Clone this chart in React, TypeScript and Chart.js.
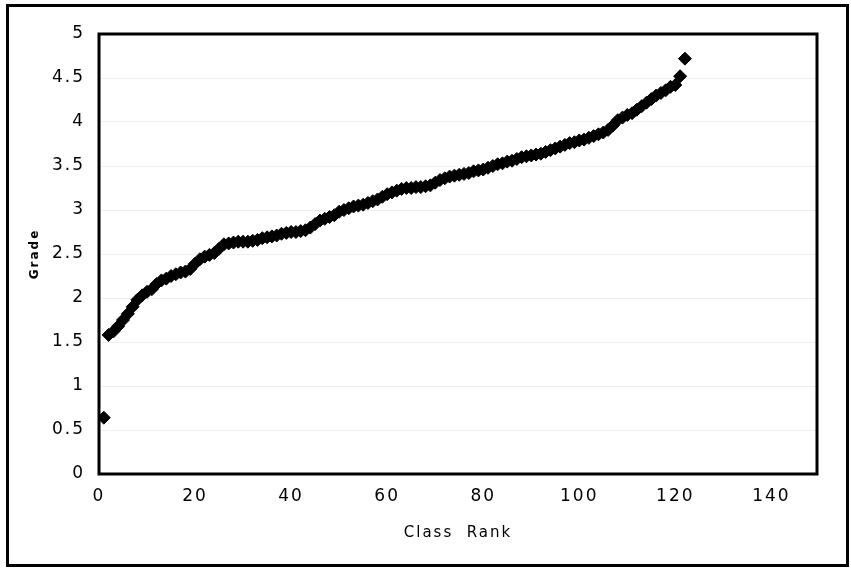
import React, { useEffect, useRef } from "react";
import { Chart, registerables } from "chart.js";

Chart.register(...registerables);

const classRank = [
  1, 2, 3, 4, 5, 6, 7, 8, 9, 10, 11, 12, 13, 14, 15, 16, 17, 18, 19, 20,
  21, 22, 23, 24, 25, 26, 27, 28, 29, 30, 31, 32, 33, 34, 35, 36, 37, 38, 39, 40,
  41, 42, 43, 44, 45, 46, 47, 48, 49, 50, 51, 52, 53, 54, 55, 56, 57, 58, 59, 60,
  61, 62, 63, 64, 65, 66, 67, 68, 69, 70, 71, 72, 73, 74, 75, 76, 77, 78, 79, 80,
  81, 82, 83, 84, 85, 86, 87, 88, 89, 90, 91, 92, 93, 94, 95, 96, 97, 98, 99, 100,
  101, 102, 103, 104, 105, 106, 107, 108, 109, 110, 111, 112, 113, 114, 115, 116, 117, 118, 119, 120,
  121, 122,
];

const grades = [
  0.64, 1.58, 1.62, 1.68, 1.75, 1.82, 1.9, 1.98, 2.03, 2.07,
  2.1, 2.16, 2.2, 2.22, 2.25, 2.27, 2.29, 2.3, 2.33, 2.39,
  2.44, 2.47, 2.49, 2.51, 2.56, 2.61, 2.62, 2.63, 2.64, 2.64,
  2.64, 2.65, 2.66, 2.68, 2.69, 2.7, 2.71, 2.73, 2.74, 2.75,
  2.75, 2.76, 2.77, 2.8, 2.84, 2.88, 2.9, 2.92, 2.94, 2.98,
  3.0, 3.02, 3.04, 3.05, 3.06, 3.08, 3.1, 3.12, 3.15, 3.18,
  3.2, 3.22, 3.24, 3.25, 3.25, 3.26, 3.26, 3.27, 3.28, 3.31,
  3.34, 3.36, 3.38, 3.39, 3.4, 3.41, 3.42, 3.44, 3.45, 3.46,
  3.48, 3.5, 3.52, 3.53, 3.55, 3.56, 3.58, 3.6, 3.61, 3.62,
  3.63, 3.64, 3.66, 3.68, 3.7, 3.72, 3.74, 3.76, 3.77, 3.79,
  3.8, 3.82, 3.84, 3.86, 3.88, 3.91, 3.96, 4.02, 4.05, 4.08,
  4.1, 4.14, 4.18, 4.22, 4.26, 4.3, 4.33, 4.36, 4.4, 4.42,
  4.52, 4.72,
];

const xTickValues = [0, 20, 40, 60, 80, 100, 120, 140];
const yTickValues = [0, 0.5, 1, 1.5, 2, 2.5, 3, 3.5, 4, 4.5, 5];

const FONT = "'DejaVu Sans', sans-serif";

export default function App() {
  const canvasRef = useRef<HTMLCanvasElement>(null);

  useEffect(() => {
    document.body.style.margin = "0";
    const canvas = canvasRef.current;
    if (!canvas) return;

    const setSpacing = (c: any) => {
      c.ctx.letterSpacing = "2px";
    };
    const spacingPlugin = {
      id: "spacing",
      beforeUpdate: setSpacing,
      beforeLayout: setSpacing,
      beforeDraw: setSpacing,
    };
    const framePlugin = {
      id: "frame",
      afterDatasetsDraw(c: any) {
        const { left, top, right, bottom } = c.chartArea;
        const ctx = c.ctx;
        ctx.save();
        ctx.strokeStyle = "#000";
        ctx.lineWidth = 3;
        ctx.strokeRect(left, top, right - left, bottom - top);
        ctx.restore();
      },
    };

    const chart = new Chart(canvas, {
      type: "scatter",
      data: {
        datasets: [
          {
            data: classRank.map((x, i) => ({ x, y: grades[i] })),
            pointStyle: "rectRot",
            pointRadius: 6.5,
            backgroundColor: "#000",
            borderColor: "#000",
            borderWidth: 1,
          },
        ],
      },
      options: {
        animation: false,
        responsive: false,
        events: [],
        layout: { padding: { left: 0, top: 34, right: 34, bottom: 0 } },
        plugins: {
          legend: { display: false },
          tooltip: { enabled: false },
        },
        scales: {
          x: {
            type: "linear",
            min: 0,
            max: 149.5,
            afterBuildTicks: (s: any) => {
              s.ticks = xTickValues.map((v) => ({ value: v }));
            },
            afterFit: (s: any) => {
              s.height = 94;
            },
            grid: { display: false, drawTicks: false },
            border: { display: false },
            ticks: {
              color: "#000",
              font: { family: FONT, size: 17 },
              padding: 12,
              maxRotation: 0,
              autoSkip: false,
              callback: (v: any) => String(v),
            },
            title: {
              display: true,
              text: "Class  Rank",
              color: "#000",
              font: { family: FONT, size: 15 },
              padding: { top: 0, bottom: 26 },
            },
          },
          y: {
            type: "linear",
            min: 0,
            max: 5,
            afterBuildTicks: (s: any) => {
              s.ticks = yTickValues.map((v) => ({ value: v }));
            },
            afterFit: (s: any) => {
              s.width = 99;
            },
            grid: { color: "#efefef", lineWidth: 1, drawTicks: false },
            border: { display: false },
            ticks: {
              color: "#000",
              font: { family: FONT, size: 17 },
              padding: 14,
              autoSkip: false,
              callback: (v: any) => String(v),
            },
            title: {
              display: true,
              text: "Grade",
              color: "#000",
              font: { family: FONT, size: 12, weight: "bold" },
              padding: { top: 28, bottom: 0 },
            },
          },
        },
      },
      plugins: [spacingPlugin, framePlugin],
    } as any);

    return () => chart.destroy();
  }, []);

  return (
    <div style={{ position: "relative", width: 851, height: 568 }}>
      <canvas ref={canvasRef} width={851} height={568} style={{ display: "block" }} />
      <div
        style={{
          position: "absolute",
          left: 6,
          top: 4,
          width: 843,
          height: 563,
          border: "3px solid #000",
          boxSizing: "border-box",
          pointerEvents: "none",
        }}
      />
    </div>
  );
}
